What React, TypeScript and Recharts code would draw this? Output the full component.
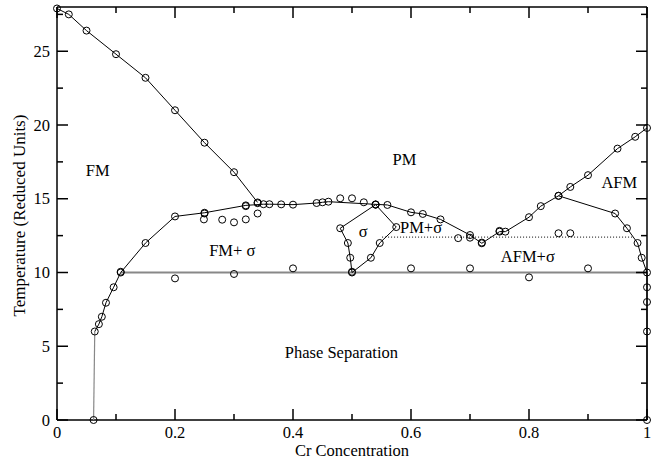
import React from 'react';
import { ScatterChart, Scatter, XAxis, YAxis } from 'recharts';

type P = { x: number; y: number };

// FM / PM boundary (Curie line, descending from pure Fe)
const fmCurie: P[] = [
  { x: 0, y: 27.9 }, { x: 0.02, y: 27.5 }, { x: 0.05, y: 26.4 }, { x: 0.1, y: 24.8 },
  { x: 0.15, y: 23.2 }, { x: 0.2, y: 21.0 }, { x: 0.25, y: 18.8 }, { x: 0.3, y: 16.8 },
  { x: 0.34, y: 14.75 },
];

// vertical gray segment at low Cr
const lowCrEdge: P[] = [{ x: 0.062, y: 0 }, { x: 0.064, y: 6.0 }];

// sigma boundary running across the diagram to the Neel line
const sigmaBoundary: P[] = [
  { x: 0.064, y: 6.0 }, { x: 0.071, y: 6.5 }, { x: 0.076, y: 7.0 }, { x: 0.083, y: 7.95 },
  { x: 0.096, y: 9.0 }, { x: 0.108, y: 10.0 }, { x: 0.15, y: 12.0 }, { x: 0.2, y: 13.8 },
  { x: 0.25, y: 14.05 }, { x: 0.32, y: 14.55 }, { x: 0.35, y: 14.63 }, { x: 0.36, y: 14.63 },
  { x: 0.38, y: 14.62 }, { x: 0.4, y: 14.6 }, { x: 0.44, y: 14.71 }, { x: 0.45, y: 14.76 },
  { x: 0.46, y: 14.8 }, { x: 0.54, y: 14.62 }, { x: 0.56, y: 14.58 }, { x: 0.6, y: 14.08 },
  { x: 0.62, y: 13.97 }, { x: 0.65, y: 13.6 }, { x: 0.7, y: 12.54 }, { x: 0.72, y: 11.98 },
  { x: 0.75, y: 12.77 }, { x: 0.76, y: 12.77 }, { x: 0.8, y: 13.75 }, { x: 0.82, y: 14.5 },
  { x: 0.85, y: 15.2 }, { x: 0.87, y: 15.8 }, { x: 0.9, y: 16.6 }, { x: 0.95, y: 18.4 },
  { x: 0.98, y: 19.2 }, { x: 1.0, y: 19.8 },
];

// AFM / AFM+sigma boundary
const afmBoundary: P[] = [
  { x: 0.85, y: 15.2 }, { x: 0.946, y: 14.0 }, { x: 0.966, y: 13.0 }, { x: 0.984, y: 12.0 },
  { x: 0.991, y: 11.0 }, { x: 1.0, y: 10.0 }, { x: 1.0, y: 9.0 }, { x: 1.0, y: 8.0 },
  { x: 1.0, y: 6.0 }, { x: 1.0, y: 0 },
];

// sigma phase loop
const sigmaLoop: P[] = [
  { x: 0.54, y: 14.6 }, { x: 0.48, y: 13.0 }, { x: 0.493, y: 12.0 }, { x: 0.497, y: 11.0 },
  { x: 0.5, y: 10.0 }, { x: 0.532, y: 11.0 }, { x: 0.547, y: 12.0 }, { x: 0.575, y: 13.08 },
  { x: 0.54, y: 14.6 },
];

// gray isotherm and dotted line
const isotherm: P[] = [{ x: 0.108, y: 10.0 }, { x: 1.0, y: 10.0 }];
const dottedLine: P[] = [{ x: 0.551, y: 12.4 }, { x: 0.976, y: 12.4 }];

// isolated simulation points
const loosePoints: P[] = [
  { x: 0.062, y: 0 },
  { x: 0.249, y: 13.6 }, { x: 0.28, y: 13.58 }, { x: 0.3, y: 13.4 }, { x: 0.32, y: 13.6 },
  { x: 0.34, y: 14.0 }, { x: 0.48, y: 15.03 }, { x: 0.5, y: 15.03 }, { x: 0.52, y: 14.76 },
  { x: 0.68, y: 12.33 }, { x: 0.7, y: 12.36 },
  { x: 0.2, y: 9.6 }, { x: 0.3, y: 9.9 }, { x: 0.4, y: 10.28 }, { x: 0.6, y: 10.28 },
  { x: 0.7, y: 10.28 }, { x: 0.8, y: 9.67 }, { x: 0.9, y: 10.28 },
  { x: 0.85, y: 12.66 }, { x: 0.87, y: 12.66 },
  // doubled markers
  { x: 0.25, y: 14.0 }, { x: 0.32, y: 14.5 }, { x: 0.108, y: 10.05 }, { x: 0.5, y: 10.05 },
  { x: 0.72, y: 12.03 }, { x: 0.75, y: 12.82 }, { x: 0.34, y: 14.7 },
];

const regionLabels = [
  { x: 0.069, y: 16.54, text: 'FM' },
  { x: 0.589, y: 17.29, text: 'PM' },
  { x: 0.953, y: 15.73, text: 'AFM' },
  { x: 0.297, y: 11.12, text: 'FM+ σ' },
  { x: 0.519, y: 12.41, text: 'σ' },
  { x: 0.617, y: 12.68, text: 'PM+σ' },
  { x: 0.798, y: 10.71, text: 'AFM+σ' },
  { x: 0.482, y: 4.2, text: 'Phase Separation' },
];

const X_DOMAIN: [number, number] = [0, 1];
const Y_DOMAIN: [number, number] = [0, 28];
const xTicks = [0, 0.1, 0.2, 0.3, 0.4, 0.5, 0.6, 0.7, 0.8, 0.9, 1];
const xTickLabels: Record<string, string> = { '0': '0', '0.2': '0.2', '0.4': '0.4', '0.6': '0.6', '0.8': '0.8', '1': '1' };
const yTicks = [0, 2.5, 5, 7.5, 10, 12.5, 15, 17.5, 20, 22.5, 25, 27.5];
const yTickLabels: Record<string, string> = { '0': '0', '5': '5', '10': '10', '15': '15', '20': '20', '25': '25' };

const isMajorX = (v: number) => xTickLabels[String(v)] !== undefined;
const isMajorY = (v: number) => yTickLabels[String(v)] !== undefined;

// layout
const CHART_W = 658;
const CHART_H = 462;
const MARGIN = { top: 7, right: 11, bottom: 0, left: 0 };
const Y_AXIS_W = 57;
const X_AXIS_H = 42;
const PLOT_LEFT = MARGIN.left + Y_AXIS_W;
const PLOT_TOP = MARGIN.top;
const PLOT_RIGHT = CHART_W - MARGIN.right;
const PLOT_BOTTOM = CHART_H - MARGIN.bottom - X_AXIS_H;

const FONT = '"Liberation Serif", "Times New Roman", serif';
const FS = 16.5;
const FRAME = { stroke: '#000', strokeWidth: 1.5 };

const Circle = (props: any) => {
  const { cx, cy } = props;
  if (cx == null || cy == null) return <g />;
  return <circle cx={cx} cy={cy} r={3.5} fill="none" stroke="#000" strokeWidth={1} />;
};
const NoShape = () => <g />;
const LabelShape = (props: any) => {
  const { cx, cy, payload } = props;
  if (cx == null || cy == null) return <g />;
  return (
    <text x={cx} y={cy} textAnchor="middle" fontFamily={FONT} fontSize={FS} fill="#000">
      {payload.text}
    </text>
  );
};

const BottomTick = (props: any) => {
  const { x, y, payload } = props;
  const v = payload.value;
  const major = isMajorX(v);
  const len = major ? 11 : 6;
  return (
    <g>
      <line x1={x} x2={x} y1={y} y2={y - len} {...FRAME} />
      {major && (
        <text x={x} y={y + 18} textAnchor="middle" fontFamily={FONT} fontSize={FS} fill="#000">
          {xTickLabels[String(v)]}
        </text>
      )}
    </g>
  );
};
const LeftTick = (props: any) => {
  const { x, y, payload } = props;
  const major = isMajorY(payload.value);
  const len = major ? 11 : 6;
  return (
    <g>
      <line x1={x} x2={x + len} y1={y} y2={y} {...FRAME} />
      {major && (
        <text x={x - 7} y={y} dy="0.34em" textAnchor="end" fontFamily={FONT} fontSize={FS} fill="#000">
          {yTickLabels[String(payload.value)]}
        </text>
      )}
    </g>
  );
};

const XTitle = (props: any) => {
  const vb = props.viewBox || {};
  return (
    <text x={vb.x + vb.width / 2} y={vb.y + 36} textAnchor="middle" fontFamily={FONT} fontSize={FS} fill="#000">
      Cr Concentration
    </text>
  );
};
const YTitle = (props: any) => {
  const vb = props.viewBox || {};
  const cx = vb.x + 25;
  const cy = vb.y + vb.height / 2 + 2;
  return (
    <text x={cx} y={cy} transform={`rotate(-90, ${cx}, ${cy})`} textAnchor="middle" fontFamily={FONT} fontSize={17} fill="#000">
      Temperature (Reduced Units)
    </text>
  );
};

// top / right frame edges with mirrored inward ticks (same linear mapping as the axes)
const sx = (v: number) => PLOT_LEFT + ((v - X_DOMAIN[0]) / (X_DOMAIN[1] - X_DOMAIN[0])) * (PLOT_RIGHT - PLOT_LEFT);
const sy = (v: number) => PLOT_BOTTOM - ((v - Y_DOMAIN[0]) / (Y_DOMAIN[1] - Y_DOMAIN[0])) * (PLOT_BOTTOM - PLOT_TOP);

const FrameOverlay = () => (
  <svg width={CHART_W} height={CHART_H} style={{ position: 'absolute', left: 0, top: 0, pointerEvents: 'none' }}>
    <line x1={PLOT_LEFT} x2={PLOT_RIGHT} y1={PLOT_TOP} y2={PLOT_TOP} {...FRAME} />
    <line x1={PLOT_RIGHT} x2={PLOT_RIGHT} y1={PLOT_TOP} y2={PLOT_BOTTOM} {...FRAME} />
    {xTicks.map((v) => (
      <line key={'t' + v} x1={sx(v)} x2={sx(v)} y1={PLOT_TOP} y2={PLOT_TOP + (isMajorX(v) ? 11 : 6)} {...FRAME} />
    ))}
    {yTicks.map((v) => (
      <line key={'r' + v} x1={PLOT_RIGHT} x2={PLOT_RIGHT - (isMajorY(v) ? 11 : 6)} y1={sy(v)} y2={sy(v)} {...FRAME} />
    ))}
  </svg>
);

const blackLine = { stroke: '#000', strokeWidth: 1 };

export default function App() {
  return (
    <div style={{ position: 'absolute', left: 0, top: 0, width: CHART_W, height: CHART_H, background: '#fff' }}>
      <ScatterChart width={CHART_W} height={CHART_H} margin={MARGIN}>
        <XAxis xAxisId="b" dataKey="x" type="number" domain={X_DOMAIN} ticks={xTicks} interval={0}
          orientation="bottom" height={X_AXIS_H} tickSize={0} tickMargin={0} tickLine={false}
          axisLine={FRAME} tick={<BottomTick />} label={<XTitle />} />
        <YAxis yAxisId="l" dataKey="y" type="number" domain={Y_DOMAIN} ticks={yTicks} interval={0}
          orientation="left" width={Y_AXIS_W} tickSize={0} tickMargin={0} tickLine={false}
          axisLine={FRAME} tick={<LeftTick />} label={<YTitle />} />

        <Scatter xAxisId="b" yAxisId="l" data={isotherm} line={{ stroke: '#888', strokeWidth: 2 }} lineType="joint" shape={<NoShape />} isAnimationActive={false} />
        <Scatter xAxisId="b" yAxisId="l" data={lowCrEdge} line={{ stroke: '#888', strokeWidth: 1.2 }} lineType="joint" shape={<NoShape />} isAnimationActive={false} />
        <Scatter xAxisId="b" yAxisId="l" data={dottedLine} line={{ stroke: '#000', strokeWidth: 1, strokeDasharray: '1 2' }} lineType="joint" shape={<NoShape />} isAnimationActive={false} />
        <Scatter xAxisId="b" yAxisId="l" data={fmCurie} line={blackLine} lineType="joint" shape={<Circle />} isAnimationActive={false} />
        <Scatter xAxisId="b" yAxisId="l" data={sigmaBoundary} line={blackLine} lineType="joint" shape={<Circle />} isAnimationActive={false} />
        <Scatter xAxisId="b" yAxisId="l" data={afmBoundary} line={blackLine} lineType="joint" shape={<Circle />} isAnimationActive={false} />
        <Scatter xAxisId="b" yAxisId="l" data={sigmaLoop} line={blackLine} lineType="joint" shape={<Circle />} isAnimationActive={false} />
        <Scatter xAxisId="b" yAxisId="l" data={loosePoints} shape={<Circle />} isAnimationActive={false} />
        <Scatter xAxisId="b" yAxisId="l" data={regionLabels} shape={<LabelShape />} isAnimationActive={false} />
      </ScatterChart>
      <FrameOverlay />
    </div>
  );
}
